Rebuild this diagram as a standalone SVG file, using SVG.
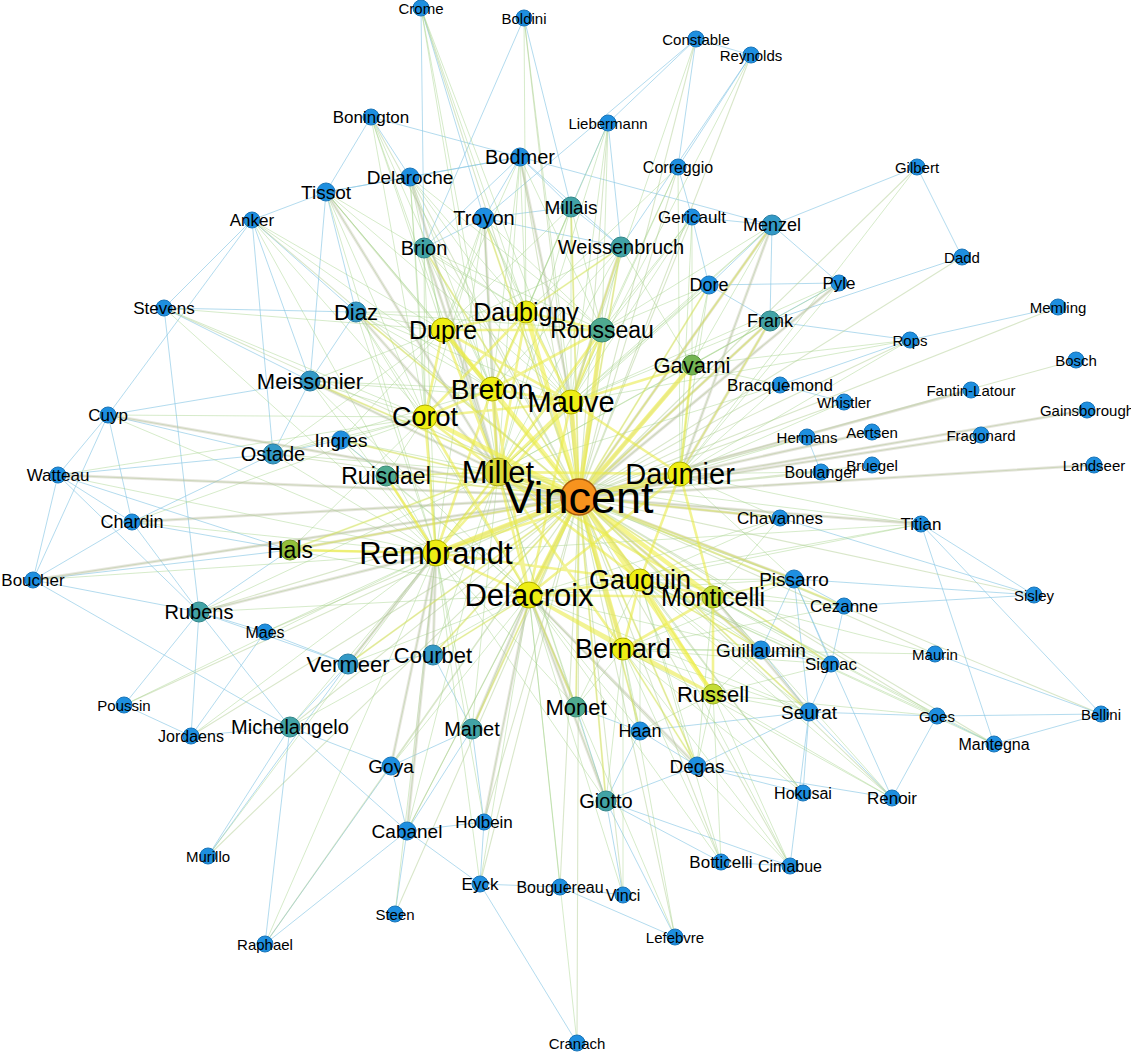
<svg xmlns="http://www.w3.org/2000/svg" width="1131" height="1055" viewBox="0 0 1131 1055">
<style>
.e1{stroke:#b3cf96;stroke-width:1.1;opacity:.5;fill:none}
.e2{stroke:#eeee44;stroke-width:4.5;opacity:.6;fill:none}
.e2b{stroke:#e8ea3c;stroke-width:2.6;opacity:.55;fill:none}
.e2c{stroke:#e6ea50;stroke-width:2;opacity:.4;fill:none}
.e3{stroke:#a4d38a;stroke-width:.9;opacity:.5;fill:none}
.e4{stroke:#8ec9e6;stroke-width:.9;opacity:.75;fill:none}
.e5{stroke:#b9b9a2;stroke-width:3;opacity:.35;fill:none;stroke-linecap:round}
circle{stroke-width:1}
.nb{fill:#1e8fe0;stroke:#1a75b8}
.nbt{fill:#3399c6;stroke:#2a7ea3}
.nt{fill:#42a3a6;stroke:#318488}
.ng{fill:#4faa90;stroke:#3b8a72}
.ngr{fill:#74b552;stroke:#5a9440}
.nhg{fill:#93bf3a;stroke:#76a02a}
.nyg{fill:#c4dc35;stroke:#9ab020}
.ny{fill:#eeee14;stroke:#b0b000}
.nyo{fill:#d9d935;stroke:#a8a820}
.nv{fill:#f7931e;stroke:#a85d0c;stroke-width:1.5}
text{font-family:"Liberation Sans",Arial,Helvetica,sans-serif;text-anchor:middle;dominant-baseline:central;fill:#000}
.f15{font-size:15px}.f16{font-size:16px}.f17{font-size:17px}.f18{font-size:18px}.f19{font-size:19px}.f20{font-size:20px}.f22{font-size:22px}.f23{font-size:23px}.f25{font-size:25px}.f27{font-size:27px}.f28{font-size:28px}.f29{font-size:29px}.f31{font-size:31px}.f45{font-size:45px}
</style>
<rect width="1131" height="1055" fill="#fff"/>
<g id="connectors">
<path class="e4" d="M108 415L58 475M108 415L132 522M108 415L33 580M58 475L132 522M58 475L33 580M132 522L33 580M132 522L199 612M33 580L199 612M33 580L290 727M58 475L199 612M108 415L273 454M108 415L252 220M164 308L252 220M164 308L356 312M164 308L199 612M252 220L326 192M252 220L273 454M326 192L410 177M326 192L371 117M326 192L310 381M371 117L410 177M371 117L520 157M410 177L520 157M326 192L520 157M520 157L484 218M520 157L424 248M520 157L571 207M520 157L621 247M520 157L772 225M421 8L424 248M421 8L484 218M524 18L424 248M524 18L571 207M696 39L751 55M696 39L678 167M696 39L608 123M696 39L484 218M751 55L678 167M751 55L621 247M608 123L571 207M608 123L621 247M678 167L692 217M692 217L772 225M692 217L709 285M772 225L709 285M772 225L770 321M772 225L839 283M772 225L917 167M839 283L770 321M709 285L770 321M709 285L839 283M962 257L770 321M910 340L770 321M910 340L780 385M844 402L780 385M807 437L821 472M199 612L191 736M199 612L265 632M199 612L124 705M199 612L290 727M191 736L290 727M191 736L265 632M191 736L124 705M290 727L265 944M290 727L391 766M290 727L407 831M208 856L290 727M208 856L348 664M265 944L391 766M265 944L407 831M391 766L407 831M407 831L395 914M407 831L484 822M407 831L480 884M484 822L480 884M480 884L577 1043M480 884L560 887M560 887L623 895M560 887L675 937M623 895L606 801M606 801L721 862M606 801L790 866M721 862L790 866M697 766L809 712M697 766L640 731M697 766L892 798M697 766L803 793M809 712L831 664M809 712L794 579M831 664L794 579M794 579L761 650M794 579L844 606M761 650L831 664M844 606L831 664M809 712L892 798M809 712L790 866M809 712L937 716M892 798L937 716M937 716L994 744M994 744L1101 714M937 716L1101 714M921 524L1034 595M921 524L994 744M921 524L1101 714M935 654L1101 714M1034 595L794 579M1034 595L844 606M780 518L1034 595M794 579L892 798M803 793L809 712M356 312L310 381M356 312L326 192M356 312L252 220M310 381L273 454M310 381L108 415M310 381L164 308M310 381L252 220M273 454L341 440M273 454L58 475M273 454L132 522M341 440L386 476M290 550L199 612M290 550L132 522M290 550L33 580M290 550L58 475M348 664L199 612M348 664L265 632M348 664L290 727M348 664L433 655M433 655L472 729M472 729L391 766M472 729L484 822M472 729L407 831M576 707L640 731M576 707L606 801M606 801L697 766M606 801L675 937M424 248L484 218M484 218L621 247M484 218L571 207M621 247L571 207M640 731L809 712M606 801L640 731M761 650L809 712M917 167L962 257M1058 307L910 340"/>
<path class="e1" d="M579 497L421 8M579 497L524 18M579 497L696 39M579 497L751 55M579 497L608 123M579 497L678 167M579 497L371 117M579 497L520 157M579 497L410 177M579 497L326 192M579 497L571 207M579 497L692 217M579 497L772 225M579 497L252 220M579 497L484 218M579 497L621 247M579 497L424 248M579 497L917 167M579 497L962 257M579 497L709 285M579 497L839 283M579 497L164 308M579 497L356 312M579 497L770 321M579 497L1058 307M579 497L910 340M579 497L1076 360M579 497L310 381M579 497L780 385M579 497L971 390M579 497L844 402M579 497L1087 410M579 497L108 415M579 497L341 440M579 497L807 437M579 497L872 432M579 497L981 435M579 497L273 454M579 497L1094 465M579 497L872 465M579 497L386 476M579 497L58 475M579 497L821 472M579 497L132 522M579 497L780 518M579 497L921 524M579 497L290 550M579 497L33 580M579 497L794 579M579 497L199 612M579 497L844 606M579 497L1034 595M579 497L265 632M579 497L761 650M579 497L348 664M579 497L433 655M579 497L831 664M579 497L935 654M579 497L124 705M579 497L290 727M579 497L576 707M579 497L809 712M579 497L937 716M579 497L1101 714M579 497L191 736M579 497L472 729M579 497L640 731M579 497L994 744M579 497L391 766M579 497L697 766M579 497L803 793M579 497L892 798M579 497L606 801M579 497L484 822M579 497L407 831M579 497L208 856M579 497L721 862M579 497L790 866M579 497L480 884M579 497L560 887M579 497L623 895M579 497L395 914M579 497L675 937M579 497L265 944M579 497L577 1043"/>
<path class="e3" d="M498 472L424 248M498 472L484 218M498 472L520 157M498 472L410 177M498 472L326 192M498 472L356 312M498 472L310 381M498 472L273 454M498 472L341 440M498 472L386 476M498 472L290 550M498 472L621 247M498 472L571 207M498 472L772 225M498 472L770 321M498 472L692 365M498 472L709 285M498 472L692 217M498 472L608 123M498 472L433 655M498 472L472 729M498 472L576 707M498 472L606 801M498 472L348 664M498 472L199 612M498 472L407 831M498 472L761 650M498 472L794 579M498 472L780 518M498 472L921 524M498 472L780 385M498 472L421 8M498 472L371 117"/>
<path class="e3" d="M436 553L273 454M436 553L310 381M436 553L341 440M436 553L356 312M436 553L199 612M436 553L348 664M436 553L265 632M436 553L132 522M436 553L58 475M436 553L108 415M436 553L33 580M436 553L191 736M436 553L290 727M436 553L433 655M436 553L472 729M436 553L391 766M436 553L407 831M436 553L484 822M436 553L480 884M436 553L395 914M436 553L326 192M436 553L252 220M436 553L164 308M436 553L424 248M436 553L484 218M436 553L606 801M436 553L576 707M436 553L921 524M436 553L124 705M436 553L208 856M436 553L265 944M436 553L410 177"/>
<path class="e3" d="M529 595L433 655M529 595L472 729M529 595L576 707M529 595L606 801M529 595L391 766M529 595L407 831M529 595L484 822M529 595L480 884M529 595L560 887M529 595L623 895M529 595L675 937M529 595L640 731M529 595L697 766M529 595L721 862M529 595L790 866M529 595L290 727M529 595L348 664M529 595L199 612M529 595L761 650M529 595L809 712M529 595L794 579M529 595L577 1043M529 595L921 524M529 595L780 518M529 595L290 550M529 595L386 476M529 595L341 440M529 595L356 312M529 595L310 381"/>
<path class="e3" d="M571 402L621 247M571 402L571 207M571 402L520 157M571 402L484 218M571 402L424 248M571 402L410 177M571 402L772 225M571 402L770 321M571 402L692 217M571 402L608 123M571 402L678 167M571 402L524 18M571 402L421 8M571 402L709 285M571 402L910 340M571 402L356 312M571 402L310 381M571 402L326 192M571 402L696 39M571 402L751 55M571 402L839 283"/>
<path class="e3" d="M492 389L484 218M492 389L424 248M492 389L520 157M492 389L410 177M492 389L326 192M492 389L356 312M492 389L371 117M492 389L571 207M492 389L621 247M492 389L421 8M492 389L310 381M492 389L273 454M492 389L252 220M425 417L356 312M425 417L310 381M425 417L424 248M425 417L410 177M425 417L326 192M425 417L371 117M425 417L273 454M425 417L341 440M425 417L386 476M425 417L484 218M425 417L252 220M425 417L164 308M425 417L108 415M425 417L58 475M425 417L132 522M425 417L290 550"/>
<path class="e3" d="M443 330L356 312M443 330L310 381M443 330L424 248M443 330L484 218M443 330L520 157M443 330L410 177M443 330L326 192M443 330L371 117M443 330L252 220M443 330L164 308M443 330L273 454M443 330L341 440M443 330L621 247M443 330L571 207M526 312L484 218M526 312L520 157M526 312L424 248M526 312L410 177M526 312L571 207M526 312L621 247M526 312L608 123M526 312L678 167M526 312L524 18M526 312L421 8M526 312L356 312M526 312L326 192M602 330L484 218M602 330L520 157M602 330L621 247M602 330L571 207M602 330L608 123M602 330L678 167M602 330L692 217M602 330L709 285M602 330L772 225M602 330L356 312M602 330L424 248M602 330L410 177"/>
<path class="e3" d="M680 474L692 365M680 474L770 321M680 474L772 225M680 474L709 285M680 474L839 283M680 474L780 385M680 474L844 402M680 474L807 437M680 474L821 472M680 474L780 518M680 474L910 340M680 474L794 579M680 474L921 524M680 474L917 167M680 474L692 217M680 474L678 167M640 580L794 579M640 580L761 650M640 580L844 606M640 580L831 664M640 580L809 712M640 580L697 766M640 580L640 731M640 580L576 707M640 580L892 798M640 580L803 793M640 580L721 862M640 580L790 866M640 580L780 518M640 580L994 744M640 580L937 716M640 580L921 524"/>
<path class="e3" d="M623 649L761 650M623 649L809 712M623 649L831 664M623 649L697 766M623 649L640 731M623 649L576 707M623 649L606 801M623 649L803 793M623 649L892 798M623 649L721 862M623 649L790 866M623 649L623 895M623 649L675 937M623 649L935 654M623 649L794 579M623 649L844 606M713 597L794 579M713 597L761 650M713 597L844 606M713 597L809 712M713 597L831 664M713 597L697 766M713 597L937 716M713 597L994 744M713 597L935 654M713 597L780 518M713 597L892 798M713 694L809 712M713 694L697 766M713 694L640 731M713 694L892 798M713 694L803 793M713 694L790 866M713 694L721 862M713 694L761 650M713 694L831 664M713 694L937 716M692 365L770 321M692 365L772 225M692 365L709 285M692 365L839 283M692 365L780 385M692 365L910 340M692 365L621 247M692 365L692 217"/>
<path class="e5" d="M579 497L498 472M579 497L436 553M579 497L529 595M579 497L571 402M579 497L640 580M579 497L623 649M579 497L680 474M579 497L108 415M579 497L58 475M579 497L132 522M579 497L33 580M579 497L290 550M579 497L772 225M579 497L770 321M579 497L839 283M579 497L872 432M579 497L981 435M579 497L971 390M579 497L780 518M579 497L921 524M579 497L794 579M579 497L761 650M579 497L602 330M579 497L1094 465M579 497L1087 410M326 192L498 472M410 177L498 472M520 157L571 402M484 218L498 472M424 248L498 472M356 312L498 472M310 381L498 472M199 612L436 553M809 712L713 597M697 766L529 595M606 801L529 595M576 707L529 595M472 729L529 595M391 766L436 553M407 831L436 553M484 822L529 595M433 655L436 553M348 664L436 553M621 247L571 402M772 225L680 474M770 321L680 474M692 365L579 497"/>
<path class="e2c" d="M579 497L621 247M579 497L571 207M579 497L484 218M579 497L424 248M579 497L356 312M579 497L310 381M579 497L341 440M579 497L386 476M579 497L290 550M579 497L348 664M579 497L433 655M579 497L472 729M579 497L576 707M579 497L606 801M579 497L640 731M579 497L697 766M579 497L761 650M579 497L794 579M579 497L780 518M579 497L809 712M579 497L770 321M579 497L709 285M579 497L772 225M579 497L831 664M579 497L844 606M498 472L386 476M498 472L290 550M436 553L290 550M436 553L386 476M529 595L433 655M529 595L576 707M571 402L621 247M526 312L621 247M640 580L761 650M623 649L697 766M713 597L794 579M680 474L770 321"/>
<path class="e2b" d="M498 472L436 553M498 472L529 595M498 472L571 402M498 472L492 389M498 472L425 417M498 472L443 330M498 472L526 312M498 472L602 330M498 472L680 474M498 472L640 580M498 472L623 649M436 553L529 595M436 553L571 402M436 553L492 389M436 553L425 417M436 553L290 550M436 553L386 476M436 553L680 474M436 553L640 580M529 595L571 402M529 595L640 580M529 595L623 649M529 595L713 597M529 595L680 474M529 595L425 417M529 595L492 389M571 402L492 389M571 402L526 312M571 402L602 330M571 402L443 330M571 402L680 474M571 402L425 417M571 402L692 365M492 389L425 417M492 389L443 330M492 389L526 312M492 389L602 330M425 417L443 330M425 417L526 312M443 330L526 312M443 330L602 330M526 312L602 330M680 474L640 580M680 474L692 365M680 474L713 597M640 580L623 649M640 580L713 597M640 580L713 694M623 649L713 694M623 649L713 597M713 597L713 694M529 595L713 694M498 472L713 597"/>
<path class="e2" d="M579 497L498 472M579 497L436 553M579 497L529 595M579 497L571 402M579 497L492 389M579 497L425 417M579 497L680 474M579 497L640 580M579 497L623 649M579 497L713 597M579 497L443 330M579 497L526 312M579 497L602 330M579 497L713 694M579 497L692 365"/>
</g>
<g id="nodes">
<g id="n-crome"><circle class="nb" cx="421" cy="8" r="8"/><text class="f15" x="421" y="8">Crome</text></g>
<g id="n-boldini"><circle class="nb" cx="524" cy="18" r="8"/><text class="f15" x="524" y="18">Boldini</text></g>
<g id="n-constable"><circle class="nb" cx="696" cy="39" r="8"/><text class="f15" x="696" y="39">Constable</text></g>
<g id="n-reynolds"><circle class="nb" cx="751" cy="55" r="8"/><text class="f15" x="751" y="55">Reynolds</text></g>
<g id="n-bonington"><circle class="nb" cx="371" cy="117" r="8"/><text class="f17" x="371" y="117">Bonington</text></g>
<g id="n-liebermann"><circle class="nb" cx="608" cy="123" r="8"/><text class="f15" x="608" y="123">Liebermann</text></g>
<g id="n-correggio"><circle class="nb" cx="678" cy="167" r="8"/><text class="f16" x="678" y="167">Correggio</text></g>
<g id="n-gilbert"><circle class="nb" cx="917" cy="167" r="8"/><text class="f15" x="917" y="167">Gilbert</text></g>
<g id="n-gericault"><circle class="nb" cx="692" cy="217" r="8"/><text class="f17" x="692" y="217">Gericault</text></g>
<g id="n-anker"><circle class="nb" cx="252" cy="220" r="8"/><text class="f17" x="252" y="220">Anker</text></g>
<g id="n-dadd"><circle class="nb" cx="962" cy="257" r="8"/><text class="f15" x="962" y="257">Dadd</text></g>
<g id="n-pyle"><circle class="nb" cx="839" cy="283" r="8"/><text class="f17" x="839" y="283">Pyle</text></g>
<g id="n-stevens"><circle class="nb" cx="164" cy="308" r="8"/><text class="f17" x="164" y="308">Stevens</text></g>
<g id="n-memling"><circle class="nb" cx="1058" cy="307" r="8"/><text class="f15" x="1058" y="307">Memling</text></g>
<g id="n-rops"><circle class="nb" cx="910" cy="340" r="8"/><text class="f15" x="910" y="340">Rops</text></g>
<g id="n-bosch"><circle class="nb" cx="1076" cy="360" r="8"/><text class="f15" x="1076" y="360">Bosch</text></g>
<g id="n-bracquemond"><circle class="nb" cx="780" cy="385" r="8"/><text class="f17" x="780" y="385">Bracquemond</text></g>
<g id="n-fantin-latour"><circle class="nb" cx="971" cy="390" r="8"/><text class="f15" x="971" y="390">Fantin-Latour</text></g>
<g id="n-whistler"><circle class="nb" cx="844" cy="402" r="8"/><text class="f15" x="844" y="402">Whistler</text></g>
<g id="n-gainsborough"><circle class="nb" cx="1087" cy="410" r="8"/><text class="f15" x="1087" y="410">Gainsborough</text></g>
<g id="n-cuyp"><circle class="nb" cx="108" cy="415" r="8"/><text class="f17" x="108" y="415">Cuyp</text></g>
<g id="n-aertsen"><circle class="nb" cx="872" cy="432" r="8"/><text class="f15" x="872" y="432">Aertsen</text></g>
<g id="n-fragonard"><circle class="nb" cx="981" cy="435" r="8"/><text class="f15" x="981" y="435">Fragonard</text></g>
<g id="n-hermans"><circle class="nb" cx="807" cy="437" r="8"/><text class="f15" x="807" y="437">Hermans</text></g>
<g id="n-landseer"><circle class="nb" cx="1094" cy="465" r="8"/><text class="f15" x="1094" y="465">Landseer</text></g>
<g id="n-bruegel"><circle class="nb" cx="872" cy="465" r="8"/><text class="f15" x="872" y="465">Bruegel</text></g>
<g id="n-boulanger"><circle class="nb" cx="821" cy="472" r="8"/><text class="f16" x="821" y="472">Boulanger</text></g>
<g id="n-watteau"><circle class="nb" cx="58" cy="475" r="8"/><text class="f17" x="58" y="475">Watteau</text></g>
<g id="n-chavannes"><circle class="nb" cx="780" cy="518" r="8"/><text class="f17" x="780" y="518">Chavannes</text></g>
<g id="n-chardin"><circle class="nb" cx="132" cy="522" r="8"/><text class="f18" x="132" y="522">Chardin</text></g>
<g id="n-titian"><circle class="nb" cx="921" cy="524" r="8"/><text class="f17" x="921" y="524">Titian</text></g>
<g id="n-boucher"><circle class="nb" cx="33" cy="580" r="8"/><text class="f17" x="33" y="580">Boucher</text></g>
<g id="n-sisley"><circle class="nb" cx="1034" cy="595" r="8"/><text class="f15" x="1034" y="595">Sisley</text></g>
<g id="n-cezanne"><circle class="nb" cx="844" cy="606" r="8"/><text class="f17" x="844" y="606">Cezanne</text></g>
<g id="n-maes"><circle class="nb" cx="265" cy="632" r="8"/><text class="f16" x="265" y="632">Maes</text></g>
<g id="n-maurin"><circle class="nb" cx="935" cy="654" r="8"/><text class="f15" x="935" y="654">Maurin</text></g>
<g id="n-signac"><circle class="nb" cx="831" cy="664" r="8"/><text class="f17" x="831" y="664">Signac</text></g>
<g id="n-poussin"><circle class="nb" cx="124" cy="705" r="8"/><text class="f15" x="124" y="705">Poussin</text></g>
<g id="n-bellini"><circle class="nb" cx="1101" cy="714" r="8"/><text class="f15" x="1101" y="714">Bellini</text></g>
<g id="n-goes"><circle class="nb" cx="937" cy="716" r="8"/><text class="f15" x="937" y="716">Goes</text></g>
<g id="n-jordaens"><circle class="nb" cx="191" cy="736" r="8"/><text class="f16" x="191" y="736">Jordaens</text></g>
<g id="n-mantegna"><circle class="nb" cx="994" cy="744" r="8"/><text class="f16" x="994" y="744">Mantegna</text></g>
<g id="n-hokusai"><circle class="nb" cx="803" cy="793" r="8"/><text class="f16" x="803" y="793">Hokusai</text></g>
<g id="n-renoir"><circle class="nb" cx="892" cy="798" r="8"/><text class="f17" x="892" y="798">Renoir</text></g>
<g id="n-holbein"><circle class="nb" cx="484" cy="822" r="8"/><text class="f17" x="484" y="822">Holbein</text></g>
<g id="n-murillo"><circle class="nb" cx="208" cy="856" r="8"/><text class="f15" x="208" y="856">Murillo</text></g>
<g id="n-botticelli"><circle class="nb" cx="721" cy="862" r="8"/><text class="f17" x="721" y="862">Botticelli</text></g>
<g id="n-cimabue"><circle class="nb" cx="790" cy="866" r="8"/><text class="f16" x="790" y="866">Cimabue</text></g>
<g id="n-eyck"><circle class="nb" cx="480" cy="884" r="8"/><text class="f17" x="480" y="884">Eyck</text></g>
<g id="n-bouguereau"><circle class="nb" cx="560" cy="887" r="8"/><text class="f16" x="560" y="887">Bouguereau</text></g>
<g id="n-vinci"><circle class="nb" cx="623" cy="895" r="8"/><text class="f16" x="623" y="895">Vinci</text></g>
<g id="n-steen"><circle class="nb" cx="395" cy="914" r="8"/><text class="f15" x="395" y="914">Steen</text></g>
<g id="n-lefebvre"><circle class="nb" cx="675" cy="937" r="8"/><text class="f15" x="675" y="937">Lefebvre</text></g>
<g id="n-raphael"><circle class="nb" cx="265" cy="944" r="8"/><text class="f15" x="265" y="944">Raphael</text></g>
<g id="n-cranach"><circle class="nb" cx="577" cy="1043" r="8"/><text class="f15" x="577" y="1043">Cranach</text></g>
<g id="n-bodmer"><circle class="nb" cx="520" cy="157" r="9"/><text class="f20" x="520" y="157">Bodmer</text></g>
<g id="n-delaroche"><circle class="nb" cx="410" cy="177" r="9"/><text class="f19" x="410" y="177">Delaroche</text></g>
<g id="n-tissot"><circle class="nb" cx="326" cy="192" r="9"/><text class="f19" x="326" y="192">Tissot</text></g>
<g id="n-troyon"><circle class="nb" cx="484" cy="218" r="10"/><text class="f20" x="484" y="218">Troyon</text></g>
<g id="n-dore"><circle class="nb" cx="709" cy="285" r="9"/><text class="f18" x="709" y="285">Dore</text></g>
<g id="n-ingres"><circle class="nb" cx="341" cy="440" r="9"/><text class="f19" x="341" y="440">Ingres</text></g>
<g id="n-pissarro"><circle class="nb" cx="794" cy="579" r="9"/><text class="f19" x="794" y="579">Pissarro</text></g>
<g id="n-guillaumin"><circle class="nb" cx="761" cy="650" r="9"/><text class="f19" x="761" y="650">Guillaumin</text></g>
<g id="n-seurat"><circle class="nb" cx="809" cy="712" r="9"/><text class="f19" x="809" y="712">Seurat</text></g>
<g id="n-haan"><circle class="nb" cx="640" cy="731" r="9"/><text class="f18" x="640" y="731">Haan</text></g>
<g id="n-degas"><circle class="nb" cx="697" cy="766" r="9"/><text class="f19" x="697" y="766">Degas</text></g>
<g id="n-goya"><circle class="nb" cx="391" cy="766" r="9"/><text class="f19" x="391" y="766">Goya</text></g>
<g id="n-cabanel"><circle class="nb" cx="407" cy="831" r="9"/><text class="f19" x="407" y="831">Cabanel</text></g>
<g id="n-millais"><circle class="nt" cx="571" cy="207" r="10"/><text class="f19" x="571" y="207">Millais</text></g>
<g id="n-menzel"><circle class="nbt" cx="772" cy="225" r="10"/><text class="f18" x="772" y="225">Menzel</text></g>
<g id="n-weissenbruch"><circle class="nt" cx="621" cy="247" r="10"/><text class="f20" x="621" y="247">Weissenbruch</text></g>
<g id="n-brion"><circle class="nt" cx="424" cy="248" r="10"/><text class="f20" x="424" y="248">Brion</text></g>
<g id="n-diaz"><circle class="nbt" cx="356" cy="312" r="10"/><text class="f22" x="356" y="312">Diaz</text></g>
<g id="n-frank"><circle class="nt" cx="770" cy="321" r="10"/><text class="f18" x="770" y="321">Frank</text></g>
<g id="n-gavarni"><circle class="ngr" cx="692" cy="365" r="10"/><text class="f22" x="692" y="365">Gavarni</text></g>
<g id="n-meissonier"><circle class="nbt" cx="310" cy="381" r="10"/><text class="f22" x="310" y="381">Meissonier</text></g>
<g id="n-ostade"><circle class="nbt" cx="273" cy="454" r="10"/><text class="f20" x="273" y="454">Ostade</text></g>
<g id="n-ruisdael"><circle class="ng" cx="386" cy="476" r="10"/><text class="f23" x="386" y="476">Ruisdael</text></g>
<g id="n-hals"><circle class="nhg" cx="290" cy="550" r="10"/><text class="f23" x="290" y="550">Hals</text></g>
<g id="n-rubens"><circle class="nt" cx="199" cy="612" r="10"/><text class="f20" x="199" y="612">Rubens</text></g>
<g id="n-vermeer"><circle class="nbt" cx="348" cy="664" r="10"/><text class="f22" x="348" y="664">Vermeer</text></g>
<g id="n-courbet"><circle class="nbt" cx="433" cy="655" r="10"/><text class="f22" x="433" y="655">Courbet</text></g>
<g id="n-michelangelo"><circle class="nt" cx="290" cy="727" r="10"/><text class="f20" x="290" y="727">Michelangelo</text></g>
<g id="n-manet"><circle class="nt" cx="472" cy="729" r="10"/><text class="f20" x="472" y="729">Manet</text></g>
<g id="n-monet"><circle class="ng" cx="576" cy="707" r="10"/><text class="f22" x="576" y="707">Monet</text></g>
<g id="n-giotto"><circle class="nt" cx="606" cy="801" r="10"/><text class="f20" x="606" y="801">Giotto</text></g>
<g id="n-rousseau"><circle class="ng" cx="602" cy="330" r="12"/><text class="f23" x="602" y="330">Rousseau</text></g>
<g id="n-daubigny"><circle class="ny" cx="526" cy="312" r="11"/><text class="f25" x="526" y="312">Daubigny</text></g>
<g id="n-dupre"><circle class="ny" cx="443" cy="330" r="12"/><text class="f25" x="443" y="330">Dupre</text></g>
<g id="n-breton"><circle class="ny" cx="492" cy="389" r="12"/><text class="f28" x="492" y="389">Breton</text></g>
<g id="n-corot"><circle class="ny" cx="425" cy="417" r="12"/><text class="f27" x="425" y="417">Corot</text></g>
<g id="n-mauve"><circle class="ny" cx="571" cy="402" r="12"/><text class="f29" x="571" y="402">Mauve</text></g>
<g id="n-daumier"><circle class="ny" cx="680" cy="474" r="12"/><text class="f29" x="680" y="474">Daumier</text></g>
<g id="n-russell"><circle class="nyg" cx="713" cy="694" r="10"/><text class="f22" x="713" y="694">Russell</text></g>
<g id="n-bernard"><circle class="ny" cx="623" cy="649" r="11"/><text class="f27" x="623" y="649">Bernard</text></g>
<g id="n-monticelli"><circle class="nyg" cx="713" cy="597" r="11"/><text class="f25" x="713" y="597">Monticelli</text></g>
<g id="n-gauguin"><circle class="ny" cx="640" cy="580" r="11"/><text class="f27" x="640" y="580">Gauguin</text></g>
<g id="n-rembrandt"><circle class="ny" cx="436" cy="553" r="13"/><text class="f31" x="436" y="553">Rembrandt</text></g>
<g id="n-delacroix"><circle class="ny" cx="529" cy="595" r="13"/><text class="f31" x="529" y="595">Delacroix</text></g>
<g id="n-millet"><circle class="nyo" cx="498" cy="472" r="14"/><text class="f31" x="498" y="472">Millet</text></g>
<g id="n-vincent"><circle class="nv" cx="579" cy="497" r="18"/><text class="f45" x="579" y="497">Vincent</text></g>
</g>
</svg>
